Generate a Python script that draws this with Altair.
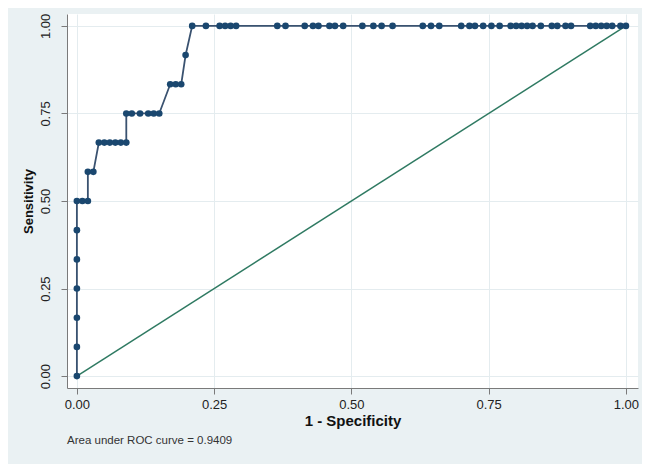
import altair as alt
import pandas as pd

# ROC curve points (1 - specificity, sensitivity)
fpr = [0.0, 0.0, 0.0, 0.0, 0.0, 0.0, 0.0,
       0.01, 0.02,
       0.02, 0.03,
       0.04, 0.05, 0.06, 0.07, 0.08, 0.09,
       0.09, 0.10, 0.115, 0.13, 0.14, 0.15,
       0.17, 0.18, 0.19,
       0.198,
       0.21, 0.235, 0.26, 0.27, 0.28, 0.29,
       0.365, 0.38, 0.415, 0.43, 0.44, 0.46, 0.47, 0.485,
       0.52, 0.54, 0.555, 0.575, 0.63, 0.645, 0.66,
       0.70, 0.715, 0.725, 0.74, 0.755, 0.77,
       0.79, 0.80, 0.81, 0.82, 0.83, 0.845,
       0.865, 0.875, 0.89, 0.90,
       0.935, 0.945, 0.955, 0.965, 0.975, 0.99, 1.0]
tpr = [0.0, 0.0833, 0.1667, 0.25, 0.3333, 0.4167, 0.5,
       0.5, 0.5,
       0.5833, 0.5833,
       0.6667, 0.6667, 0.6667, 0.6667, 0.6667, 0.6667,
       0.75, 0.75, 0.75, 0.75, 0.75, 0.75,
       0.8333, 0.8333, 0.8333,
       0.9167,
       1.0, 1.0, 1.0, 1.0, 1.0, 1.0,
       1.0, 1.0, 1.0, 1.0, 1.0, 1.0, 1.0, 1.0,
       1.0, 1.0, 1.0, 1.0, 1.0, 1.0, 1.0,
       1.0, 1.0, 1.0, 1.0, 1.0, 1.0,
       1.0, 1.0, 1.0, 1.0, 1.0, 1.0,
       1.0, 1.0, 1.0, 1.0,
       1.0, 1.0, 1.0, 1.0, 1.0, 1.0, 1.0]
ref_x = [0.0, 1.0]
ref_y = [0.0, 1.0]
ticks = [0.0, 0.25, 0.5, 0.75, 1.0]
note = "Area under ROC curve = 0.9409"

roc = pd.DataFrame({"fpr": fpr, "tpr": tpr, "idx": list(range(len(fpr)))})
ref = pd.DataFrame({"fpr": ref_x, "tpr": ref_y})

FONT = "Liberation Sans"

xscale = alt.Scale(domain=[-0.018, 1.022], nice=False, zero=False)
yscale = alt.Scale(domain=[-0.034, 1.034], nice=False, zero=False)

xaxis = alt.Axis(values=ticks, format=".2f", title="1 - Specificity",
                 labelFontSize=13, titleFontSize=15, titleFontWeight="bold",
                 labelPadding=4, titlePadding=2, tickSize=6)
yaxis = alt.Axis(values=ticks, format=".2f", title="Sensitivity",
                 labelAngle=-90, labelAlign="center", labelBaseline="bottom",
                 labelFontSize=13, titleFontSize=13, titleFontWeight="bold",
                 labelPadding=9, titlePadding=4, tickSize=6)

line = alt.Chart(roc).mark_line(color="#3a5270", strokeWidth=1.8).encode(
    x=alt.X("fpr:Q", scale=xscale, axis=xaxis),
    y=alt.Y("tpr:Q", scale=yscale, axis=yaxis),
    order="idx:Q",
)
pts = alt.Chart(roc).mark_point(filled=True, color="#1a476f", size=44, opacity=1).encode(
    x="fpr:Q", y="tpr:Q"
)
diag = alt.Chart(ref).mark_line(color="#2f7a62", strokeWidth=1.5).encode(
    x="fpr:Q", y="tpr:Q"
)

chart = alt.layer(diag, line, pts).properties(
    width=571, height=374,
    autosize=alt.AutoSizeParams(type="none"),
    padding={"left": 59, "top": 6, "right": 4, "bottom": 76},
    title=alt.TitleParams(text=note, orient="bottom", anchor="start", frame="group",
                          fontSize=11.5, fontWeight="normal", color="#333333",
                          font=FONT, offset=7),
).configure(
    background="#eaf1f3",
    font=FONT,
).configure_view(
    fill="white", stroke=None,
).configure_axis(
    domainColor="#7a7a7a", domainWidth=1,
    tickColor="#7a7a7a", tickWidth=1,
    gridColor="#e4ecef", gridWidth=1,
    labelColor="#222222", titleColor="#111111",
    labelFont=FONT, titleFont=FONT,
)

chart.save("out.html", embed_options={"renderer": "svg", "actions": False})
